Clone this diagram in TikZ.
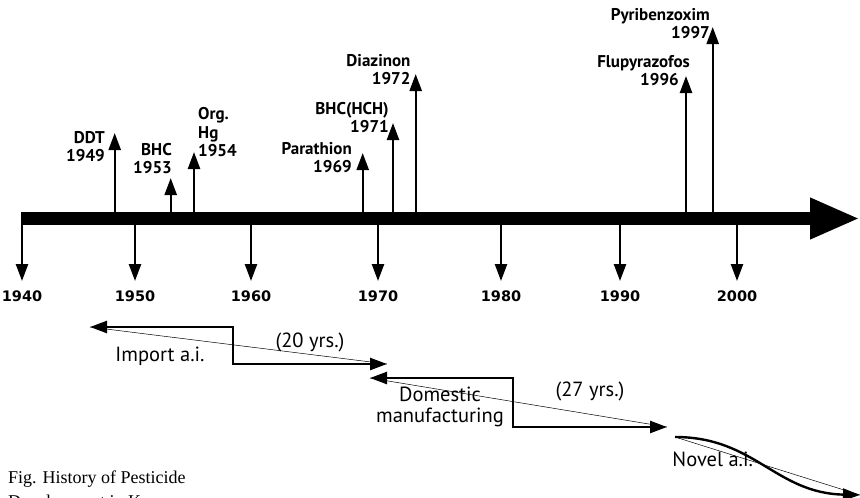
\documentclass[tikz,border=0pt]{standalone}
\usepackage{fontspec}
\newfontfamily\evfont{PT Sans}
\newfontfamily\yrfont{DejaVu Sans}
\newfontfamily\capfont{Liberation Serif}
\usetikzlibrary{arrows.meta}

\begin{document}
\begin{tikzpicture}[x=1pt,y=-1pt,>={Triangle[length=17pt,width=12pt]},line join=miter,
  ev/.style={font=\evfont\bfseries\fontsize{17}{18.5}\selectfont,inner sep=0pt},
  yr/.style={font=\yrfont\bfseries\fontsize{14.5}{16}\selectfont,inner sep=0pt},
  per/.style={font=\evfont\fontsize{20.5}{21.5}\selectfont,inner sep=0pt},
  captext/.style={font=\capfont\fontsize{18}{23}\selectfont,inner sep=0pt,anchor=base west},
  up/.style={->,line width=2.4pt},
  trend/.style={line width=0.5pt}]
\useasboundingbox (0,0) rectangle (860,498);
% time axis
\coordinate (axL) at (21,218.5);
\coordinate (axR) at (860,218.5);
\draw[line width=13pt,-{Triangle[length=50pt,width=38pt]}] (axL) -- (axR);
\foreach \x/\yr in {22/1940,135/1950,251/1960,378/1970,501/1980,620/1990,737/2000}{
  \coordinate (top\yr) at (\x,222);
  \coordinate (tip\yr) at (\x,281);
  \draw[up] (top\yr) -- (tip\yr);
  \node[yr] (lab\yr) at (\x,296) {\yr};
}
% introductions
\foreach \n/\x/\tp in {ddt/114.7/133,bhc/170.7/178,hg/194/152,par/362.7/153,hch/393/123,dia/415.7/74,flu/686/76,pyr/712.7/27}{
  \coordinate (b\n) at (\x,215);
  \coordinate (t\n) at (\x,\tp);
  \draw[up] (b\n) -- (t\n);
}
\node[ev,anchor=south east,align=right] (lddt) at (105,162.3) {DDT\\1949};
\node[ev,anchor=south east,align=right] (lbhc) at (172,174) {BHC\\1953};
\node[ev,anchor=south west,align=left] (lhg) at (198,157.3) {Org.\\Hg\\1954};
\node[ev,anchor=south east,align=right] (lpar) at (352,173.3) {Parathion\\1969};
\node[ev,anchor=south east,align=right] (lhch) at (389,133.3) {BHC(HCH)\\1971};
\node[ev,anchor=south east,align=right] (ldia) at (410.7,85) {Diazinon\\1972};
\node[ev,anchor=south east,align=right] (lflu) at (690,86) {Flupyrazofos\\1996\hspace*{11pt}};
\node[ev,anchor=south east,align=right] (lpyr) at (710,39.3) {Pyribenzoxim\\1997};
% periods
\coordinate (imL) at (90,327);
\coordinate (imS) at (233,364);
\coordinate (imR) at (387,364);
\draw[<->,line width=2.4pt] (imL) -| (imS) -- (imR);
\draw[trend] (imL) -- (imR);
\node[per,anchor=base] (imt) at (160,361) {Import a.i.};
\node[per] (imy) at (310,342) {(20 yrs.)};
\coordinate (doL) at (370,378);
\coordinate (doS) at (513,427);
\coordinate (doR) at (667,427);
\draw[<->,line width=2.4pt] (doL) -| (doS) -- (doR);
\draw[trend] (doL) -- (doR);
\node[per,anchor=south,align=center] (dot) at (440,427.5) {Domestic\\manufacturing};
\node[per] (doy) at (590,391) {(27 yrs.)};
\coordinate (nvL) at (675,437);
\coordinate (nvR) at (860,495);
\draw[->,line width=2.4pt] (nvL) .. controls (755,437) and (775,493) .. (nvR);
\draw[trend] (nvL) -- (nvR);
\node[per,anchor=base] (nvt) at (712.7,466) {Novel a.i.};
\node[captext] (cap1) at (8,483) {Fig. History of Pesticide};
\node[captext] (cap2) at (8,507) {Development in Korea};
\end{tikzpicture}
\end{document}
